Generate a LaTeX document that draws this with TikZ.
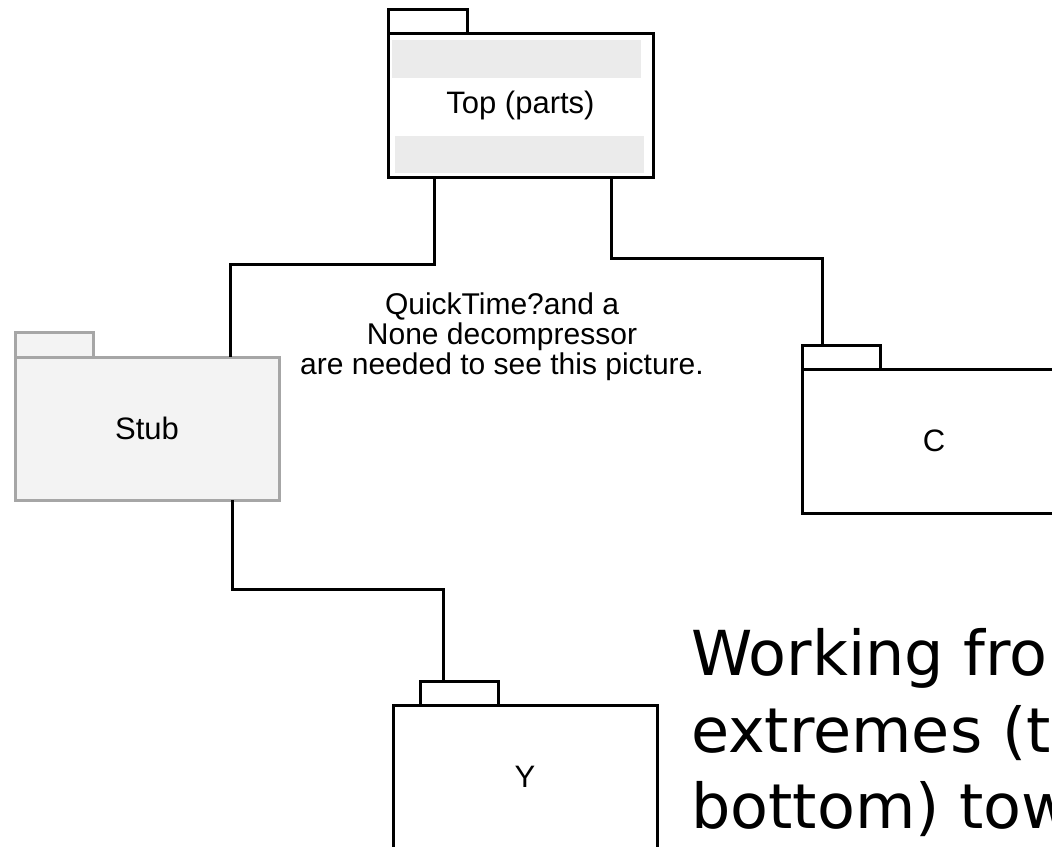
\documentclass[tikz,border=0pt]{standalone}
\usepackage{fontspec}
\setmainfont{Liberation Sans}
\newfontfamily\bigfont{DejaVu Sans}
\definecolor{bandgray}{HTML}{EBEBEB}
\definecolor{stubfill}{HTML}{F3F3F3}
\definecolor{stubline}{HTML}{A6A6A6}
\begin{document}
\begin{tikzpicture}[x=1pt,y=-1pt,
  pkgbody/.style={draw=black, line width=3pt, rectangle, inner sep=0pt, outer sep=0pt,
    minimum width=264pt, minimum height=144pt, font=\fontsize{31}{31}\selectfont},
  pkgtab/.style={draw=black, line width=3pt, rectangle, inner sep=0pt, outer sep=0pt,
    minimum width=78pt, minimum height=24pt, anchor=south west},
  stubstyle/.style={draw=stubline, fill=stubfill},
  link/.style={draw=black, line width=3pt},
  qt/.style={anchor=base, inner sep=0pt, font=\fontsize{30}{30}\selectfont},
  big/.style={anchor=base west, inner sep=0pt, font=\bigfont\fontsize{62}{76}\selectfont}]
\useasboundingbox (0,0) rectangle (1052,846);
\clip (0,0) rectangle (1052,846);
% grey bands in the top package
\fill[bandgray] (392,40) rectangle (641,78);
\fill[bandgray] (395,136) rectangle (644,173);
% packages
\node[pkgbody, minimum width=265pt] (top) at (520.5,105) {Top (parts)};
\node[pkgtab, minimum width=79pt] (ttab) at (top.north west) {};
\node[pkgbody, stubstyle, minimum height=143pt] (stub) at (147,428.5) {Stub};
\node[pkgtab, stubstyle, minimum height=25pt] (stab) at (stub.north west) {};
\node[pkgbody] (c) at (934,441) {C};
\node[pkgtab] (ctab) at (c.north west) {};
\node[pkgbody] (y) at (525,777) {Y};
\node[pkgtab] (ytab) at ([xshift=27pt]y.north west) {};
% connectors
\draw[link] ([xshift=46pt]top.south west) -- ++(0,87) -| ([xshift=215pt]stub.north west);
\draw[link] ([xshift=223pt]top.south west) -- ++(0,81) -| ([xshift=20pt]ctab.north west);
\draw[link] ([xshift=217pt]stub.south west) -- ++(0,89) -| ([xshift=23pt]ytab.north west);
% placeholder text
\node[qt] (q1) at (502,314) {QuickTime?and a};
\node[qt] (q2) at (502,344) {None decompressor};
\node[qt] (q3) at (502,374) {are needed to see this picture.};
% large text
\node[big] (w1) at (691,675) {Working fro};
\node[big] (w2) at (691,752) {extremes (t};
\node[big] (w3) at (691,828) {bottom) tow};
\end{tikzpicture}
\end{document}
